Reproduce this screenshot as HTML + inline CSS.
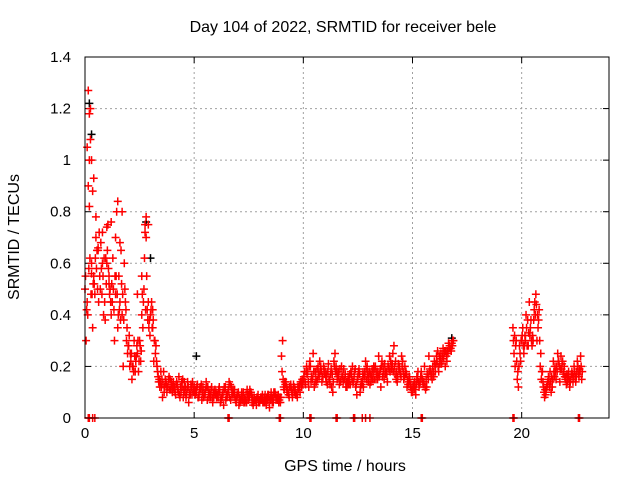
<!DOCTYPE html>
<html><head><meta charset="utf-8"><style>
body{margin:0;background:#fff}
svg{display:block;font-family:"Liberation Sans",sans-serif}
</style></head><body>
<svg id="chart" width="640" height="480">
<text x="343" y="32" font-size="16" text-anchor="middle">Day 104 of 2022, SRMTID for receiver bele</text>
<text x="345" y="471" font-size="16" text-anchor="middle">GPS time / hours</text>
<text transform="translate(19,237) rotate(-90)" font-size="16" text-anchor="middle">SRMTID / TECUs</text>
<g id="grid"></g><g id="ticks"></g><g id="marks"></g>
<rect x="85" y="57" width="524" height="361" fill="none" stroke="#000" stroke-width="1"/>
</svg>
<script>
const xTicks=[0,5,10,15,20];
const yTicks=[0,0.2,0.4,0.6,0.8,1,1.2,1.4];
const yTickLabels=["0","0.2","0.4","0.6","0.8","1","1.2","1.4"];
const seg1Start=0, seg1Step=0.1;
const seg1A=[50,45,100,60,55,70,65,50,72,45,60,55,40,50,70,35,45,40,60,30,28,22,20,18,25,30,40,50,70,45,40,35,30,20,15,12,18,14,12,15,10,12,14,16,10,8,12,14,10,9,12,10,8,11,12,9,7,10,12,8,10,8,6,9,11,8,14,12,10,7,9,6,7,8,6,9,10,5,7,8,6,7,8,5,9,7,8,10,8,7,24,12,14,10,12,8,10,9,12,14,15,13,18,22,16,12,14,17,20,16,18,13,15,12,22,20,18,14,16,15,12,15,17,14,12,16,10,14,18,15,16,14,18,20,15,17,22,15,18,20,22,25,17,14,20,24,15,18,13,12,10,14,16,12,18,13,11,17,19,15,22,24,18,25,27,20,26,28,29];
const seg1B=[30,90,120,35,48,65,72,58,40,62,75,50,45,30,80,55,65,20,45,25,20,15,30,24,18,22,35,75,42,38,45,22,28,16,14,8,12,10,16,14,14,9,11,8,12,14,9,6,13,11,9,13,11,7,10,14,10,8,6,11,9,12,8,5,7,10,13,9,11,8,5,8,10,7,9,11,6,8,5,6,8,6,9,7,4,8,10,7,9,6,30,14,10,8,11,13,9,12,10,15,18,20,12,14,25,18,15,22,14,19,14,21,17,10,25,15,13,20,19,12,16,13,20,18,9,19,14,12,22,17,13,19,15,17,24,12,20,18,14,24,19,28,15,21,17,22,20,12,16,10,13,9,18,14,15,20,12,24,16,18,18,26,21,22,25,24,29,27,30];
const seg1C=[55,40,62,48,52,58,45,68,55,38,65,48,52,42,55,40,38,48,50,35,32,25,18,22,30,28,48,62,55,35,42,38,25,18,12,15,10,13,15,11,12,10,13,9,14,11,8,12,9,14,10,12,9,13,8,11,12,9,8,10,8,11,7,10,12,9,8,10,9,6,10,7,8,6,11,8,9,6,7,9,7,9,6,8,7,10,6,9,7,8,18,11,12,9,13,10,11,8,13,12,16,18,14,20,15,13,19,16,18,20,16,18,13,17,20,18,16,15,14,17,14,17,15,16,13,18,12,17,16,20,18,16,20,15,17,19,16,21,17,19,20,18,22,16,18,20,16,17,14,13,12,11,15,13,16,14,15,15,18,20,20,22,24,21,23,26,25,27,28];
const seg1D=[42,58,48,52,62,50,55,48,62,52,58,45,62,55,48,42,52,38,42,28,25,20,24,28,22,26,45,42,38,32,35,30,22,14,18,13,15,12,11,13,11,13,10,12,15,10,11,9,12,10,11,8,12,10,9,12,8,11,10,9,9,10,8,12,9,11,7,11,8,9,8,10,6,9,7,10,8,7,8,7,8,6,7,9,8,6,9,8,6,8,15,13,11,12,10,12,9,11,14,13,14,17,20,16,18,15,20,18,16,17,17,15,19,14,18,16,19,17,15,14,13,18,14,19,15,17,13,16,19,14,17,15,19,18,16,20,18,17,20,18,21,20,18,19,16,18,17,15,15,11,11,13,14,16,14,12,17,18,17,16,21,20,23,24,26,22,27,26,30];
const seg2Start=19.6, seg2Step=0.1;
const seg2A=[35,20,15,28,30,25,40,28,35,32,45,30,42,15,12,9,14,18,12,16,20,22,24,17,15,14,12,18,20,16,17,24];
const seg2B=[25,30,12,22,35,32,28,45,30,38,48,35,20,18,8,12,15,10,22,18,25,14,21,20,13,18,15,14,16,22,19,15];
const seg2C=[30,28,18,25,32,28,35,33,38,30,40,40,30,18,10,11,16,14,15,20,18,20,19,18,16,16,14,17,18,18,16,20];
const seg2D=[32,22,20,30,28,30,38,32,28,42,44,38,25,14,11,13,12,16,18,15,22,19,22,16,17,15,17,16,14,20,18,18];
const extraHours=[0.15,0.2,0.25,0.3,0.35,0.1,0.2,0.5,1.5,1.7,2.8,2.9,2.75,1.2,1.0,0.4,0.6,0.8,1.1,1.4,1.6,0.3,2.4,2.6,3.1];
const extraVals=[127,118,108,100,88,105,82,78,84,80,78,75,72,76,74,93,66,60,52,48,68,56,48,55,42];
const zeroHours=[0.15,0.2,0.35,0.45,6.55,6.6,8.9,8.95,10.3,10.35,11.5,11.55,12.3,12.35,12.7,12.85,13.05,15.4,15.45,19.6,19.65,22.6,22.65];
const blackHours=[0.2,0.3,2.8,5.1,16.8,3.0];
const blackVals=[1.22,1.10,0.76,0.24,0.31,0.62];

const X=h=>85+h*(524/24), Y=v=>418-v*(361/1.4);
const NS="http://www.w3.org/2000/svg";
const grid=document.getElementById('grid'),ticks=document.getElementById('ticks'),marks=document.getElementById('marks');
function mk(tag,attrs,parent){const e=document.createElementNS(NS,tag);for(const k in attrs)e.setAttribute(k,attrs[k]);parent.appendChild(e);return e;}
xTicks.forEach(t=>{
 const x=X(t);
 if(t>0){const g=mk('line',{x1:x,x2:x,y1:57,y2:418,stroke:'#a0a0a0','stroke-dasharray':'2,3'},grid);
 
 }
 mk('line',{x1:x,x2:x,y1:418,y2:412,stroke:'#000'},ticks);
 mk('line',{x1:x,x2:x,y1:57,y2:63,stroke:'#000'},ticks);
 const l=mk('text',{x:x,y:438,'font-size':15,'text-anchor':'middle'},ticks);l.textContent=t;
 
 
});
yTicks.forEach((t,i)=>{
 const y=Y(t);
 if(t>0&&t<1.4){const g=mk('line',{x1:85,x2:609,y1:y,y2:y,stroke:'#a0a0a0','stroke-dasharray':'2,3'},grid);
 
 }
 mk('line',{x1:85,x2:91,y1:y,y2:y,stroke:'#000'},ticks);
 mk('line',{x1:609,x2:603,y1:y,y2:y,stroke:'#000'},ticks);
 const l=mk('text',{x:71,y:y+5,'font-size':15,'text-anchor':'end'},ticks);l.textContent=yTickLabels[i];
 
 
});
function plus(h,v,color,name){
 const x=X(h),y=Y(v);
 const p=mk('path',{d:`M${x-4},${y}h8M${x},${y-4}v8`,stroke:color,'stroke-width':1.5,fill:'none'},marks);
 
 
}
blackHours.forEach((h,i)=>plus(h,blackVals[i],'#000','point-black'));
[[seg1A,0],[seg1B,0.05],[seg1C,0.025],[seg1D,0.075]].forEach(([arr,off])=>arr.forEach((v,i)=>plus(seg1Start+off+i*seg1Step,v/100,'#f00','point-red')));
[[seg2A,0],[seg2B,0.05],[seg2C,0.025],[seg2D,0.075]].forEach(([arr,off])=>arr.forEach((v,i)=>plus(seg2Start+off+i*seg2Step,v/100,'#f00','point-red')));
extraHours.forEach((h,i)=>plus(h,extraVals[i]/100,'#f00','point-red'));
zeroHours.forEach(h=>plus(h,0,'#f00','point-zero'));
</script>
</body></html>
